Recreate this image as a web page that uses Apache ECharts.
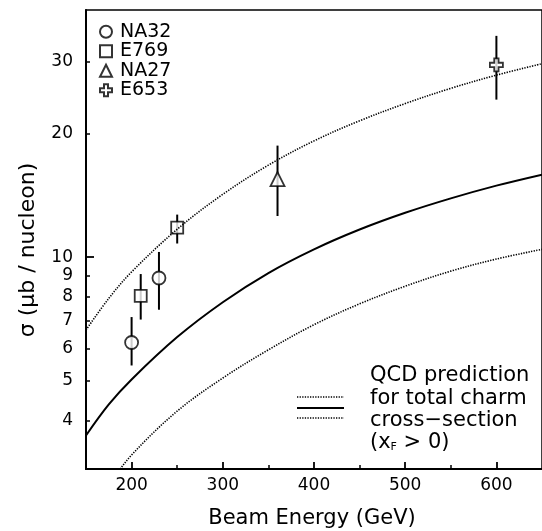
<!DOCTYPE html>
<html>
<head>
<meta charset="utf-8">
<script src="https://cdn.jsdelivr.net/npm/echarts@6/dist/echarts.min.js"></script>
<style>
html,body{margin:0;padding:0;background:#fff;}
#c{width:542px;height:531px;}
</style>
</head>
<body>
<div id="c"></div>
<script>
// ---- data ----
const energyGrid = [150, 175, 200, 250, 300, 350, 400, 450, 500, 550, 600, 650];
const qcdUpper   = [6.65, 7.94, 9.21, 11.7, 14.23, 16.76, 19.2, 21.49, 23.67, 25.78, 27.76, 29.6];
const qcdCentral = [3.68, 4.38, 5.04, 6.39, 7.77, 9.15, 10.45, 11.68, 12.83, 13.91, 14.94, 15.89];
const qcdLower   = [2.4, 2.8, 3.3, 4.22, 5.08, 5.95, 6.85, 7.7, 8.5, 9.25, 9.9, 10.45];

const na32E = [200, 230], na32V = [6.2, 8.9], na32Lo = [5.45, 7.45], na32Hi = [7.15, 10.3];
const e769E = [210, 250], e769V = [8.05, 11.8], e769Lo = [7.05, 10.8], e769Hi = [9.1, 12.7];
const na27E = [360], na27V = [15.5], na27Lo = [12.6], na27Hi = [18.7];
const e653E = [600], e653V = [29.4], e653Lo = [24.2], e653Hi = [34.6];

const xLabelValues = [200, 300, 400, 500, 600];
const xMinorValues = [250, 350, 450, 550];
const yLabelValues = [4, 5, 6, 7, 8, 9, 10, 20, 30];
const yMinorTickValues = [4, 5, 6, 7, 8, 9, 20, 30];
const yMajorTickValues = [10];

const FONT = 'DejaVu Sans';
const zip = (a, b) => a.map((v, i) => [v, b[i]]);
const zip3 = (a, b, c) => a.map((v, i) => [v, b[i], c[i]]);

const crossPath = 'path://M-1,-3L1,-3L1,-1L3,-1L3,1L1,1L1,3L-1,3L-1,1L-3,1L-3,-1L-1,-1Z';
const markerStyle = {color: '#fff', borderColor: '#000', borderWidth: 1.8};

function errSeries(E, Lo, Hi) {
  return {
    type: 'custom', z: 1, silent: true,
    data: zip3(E, Lo, Hi),
    encode: {x: 0, y: [1, 2]},
    renderItem: function (params, api) {
      const p1 = api.coord([api.value(0), api.value(1)]);
      const p2 = api.coord([api.value(0), api.value(2)]);
      return {type: 'line', shape: {x1: p1[0], y1: p1[1], x2: p2[0], y2: p2[1]},
              style: {stroke: '#000', lineWidth: 2}};
    }
  };
}
function ptSeries(name, E, V, symbol, size) {
  return {type: 'scatter', name: name, z: 2, symbol: symbol, symbolSize: size,
          data: zip(E, V), itemStyle: markerStyle};
}
const dotted = [1.3, 1.3];
function curve(vals, width, type) {
  return {type: 'line', z: 3, data: zip(energyGrid, vals), smooth: 0.35,
          showSymbol: false, symbol: 'none', clip: true,
          lineStyle: {color: '#000', width: width, type: type}};
}

const chart = echarts.init(document.getElementById('c'), null, {renderer: 'canvas'});
chart.setOption({
  animation: false,
  backgroundColor: '#fff',
  grid: {left: 86, top: 10, width: 458, height: 459, show: true, borderColor: '#000', borderWidth: 1.5, containLabel: false},
  legend: {
    orient: 'vertical', left: 99, top: 22, padding: 0, itemWidth: 12, itemHeight: 12, itemGap: 0,
    data: ['NA32', 'E769', 'NA27', 'E653'],
    textStyle: {fontFamily: FONT, fontSize: 19, lineHeight: 19.5, color: '#000', padding: [0, 0, 0, 3]},
    selectedMode: false
  },
  xAxis: [{
    type: 'value', min: 150, max: 650, interval: 50,
    axisLine: {show: true, lineStyle: {color: '#000', width: 2}},
    axisTick: {show: true, inside: true, length: 7, lineStyle: {color: '#000', width: 1.8}, customValues: xLabelValues},
    axisLabel: {customValues: xLabelValues, fontFamily: FONT, fontSize: 17, color: '#000', margin: 8},
    splitLine: {show: false}
  }, {
    type: 'value', min: 150, max: 650, interval: 50, position: 'bottom',
    axisLine: {show: false},
    axisTick: {show: true, inside: true, length: 4, lineStyle: {color: '#000', width: 1.5}, customValues: xMinorValues},
    axisLabel: {show: false}, splitLine: {show: false}
  }],
  yAxis: [{
    type: 'log', logBase: 10, min: 3.05, max: 40,
    axisLine: {show: true, lineStyle: {color: '#000', width: 2}},
    axisTick: {show: true, inside: true, length: 4, lineStyle: {color: '#000', width: 1.5}, customValues: yMinorTickValues},
    axisLabel: {customValues: yLabelValues, fontFamily: FONT, fontSize: 17, color: '#000', margin: 13,
                formatter: v => String(Math.round(v))},
    splitLine: {show: false}, minorTick: {show: false}
  }, {
    type: 'log', logBase: 10, min: 3.05, max: 40, position: 'left',
    axisLine: {show: false},
    axisTick: {show: true, inside: true, length: 8, lineStyle: {color: '#000', width: 1.8}, customValues: yMajorTickValues},
    axisLabel: {show: false}, splitLine: {show: false}
  }],
  series: [
    curve(qcdUpper, 1.6, dotted),
    curve(qcdCentral, 2, 'solid'),
    curve(qcdLower, 1.6, dotted),
    errSeries(na32E, na32Lo, na32Hi),
    errSeries(e769E, e769Lo, e769Hi),
    errSeries(na27E, na27Lo, na27Hi),
    errSeries(e653E, e653Lo, e653Hi),
    ptSeries('NA32', na32E, na32V, 'circle', 13),
    ptSeries('E769', e769E, e769V, 'rect', 12),
    ptSeries('NA27', na27E, na27V, 'triangle', 14),
    ptSeries('E653', e653E, e653V, crossPath, 13)
  ],
  graphic: [
    {type: 'line', shape: {x1: 297, y1: 397, x2: 344, y2: 397}, style: {stroke: '#000', lineWidth: 1.6, lineDash: dotted}},
    {type: 'line', shape: {x1: 297, y1: 408, x2: 344, y2: 408}, style: {stroke: '#000', lineWidth: 2}},
    {type: 'line', shape: {x1: 297, y1: 418, x2: 344, y2: 418}, style: {stroke: '#000', lineWidth: 1.6, lineDash: dotted}},
    {type: 'text', left: 370, top: 365, style: {text: 'QCD prediction', font: '21px "DejaVu Sans"', fill: '#000'}},
    {type: 'text', left: 370, top: 388, style: {text: 'for total charm', font: '21px "DejaVu Sans"', fill: '#000'}},
    {type: 'text', left: 370, top: 410, style: {text: 'cross\u2212section', font: '21px "DejaVu Sans"', fill: '#000'}},
    {type: 'text', left: 370, top: 432, style: {
      text: '(x{s|F} > 0)', font: '21px "DejaVu Sans"', fill: '#000',
      rich: {s: {fontSize: 11, fontFamily: FONT, verticalAlign: 'bottom', padding: [8, 0, 0, 0]}}
    }},
    {type: 'text', x: 312, y: 519, style: {text: 'Beam Energy (GeV)', font: '21px "DejaVu Sans"', fill: '#000', align: 'center', verticalAlign: 'middle'}},
    {type: 'text', x: 28, y: 250, rotation: Math.PI / 2, style: {text: '\u03c3 (\u03bcb / nucleon)', font: '22px "DejaVu Sans"', fill: '#000', align: 'center', verticalAlign: 'middle'}}
  ]
});
</script>
</body>
</html>
